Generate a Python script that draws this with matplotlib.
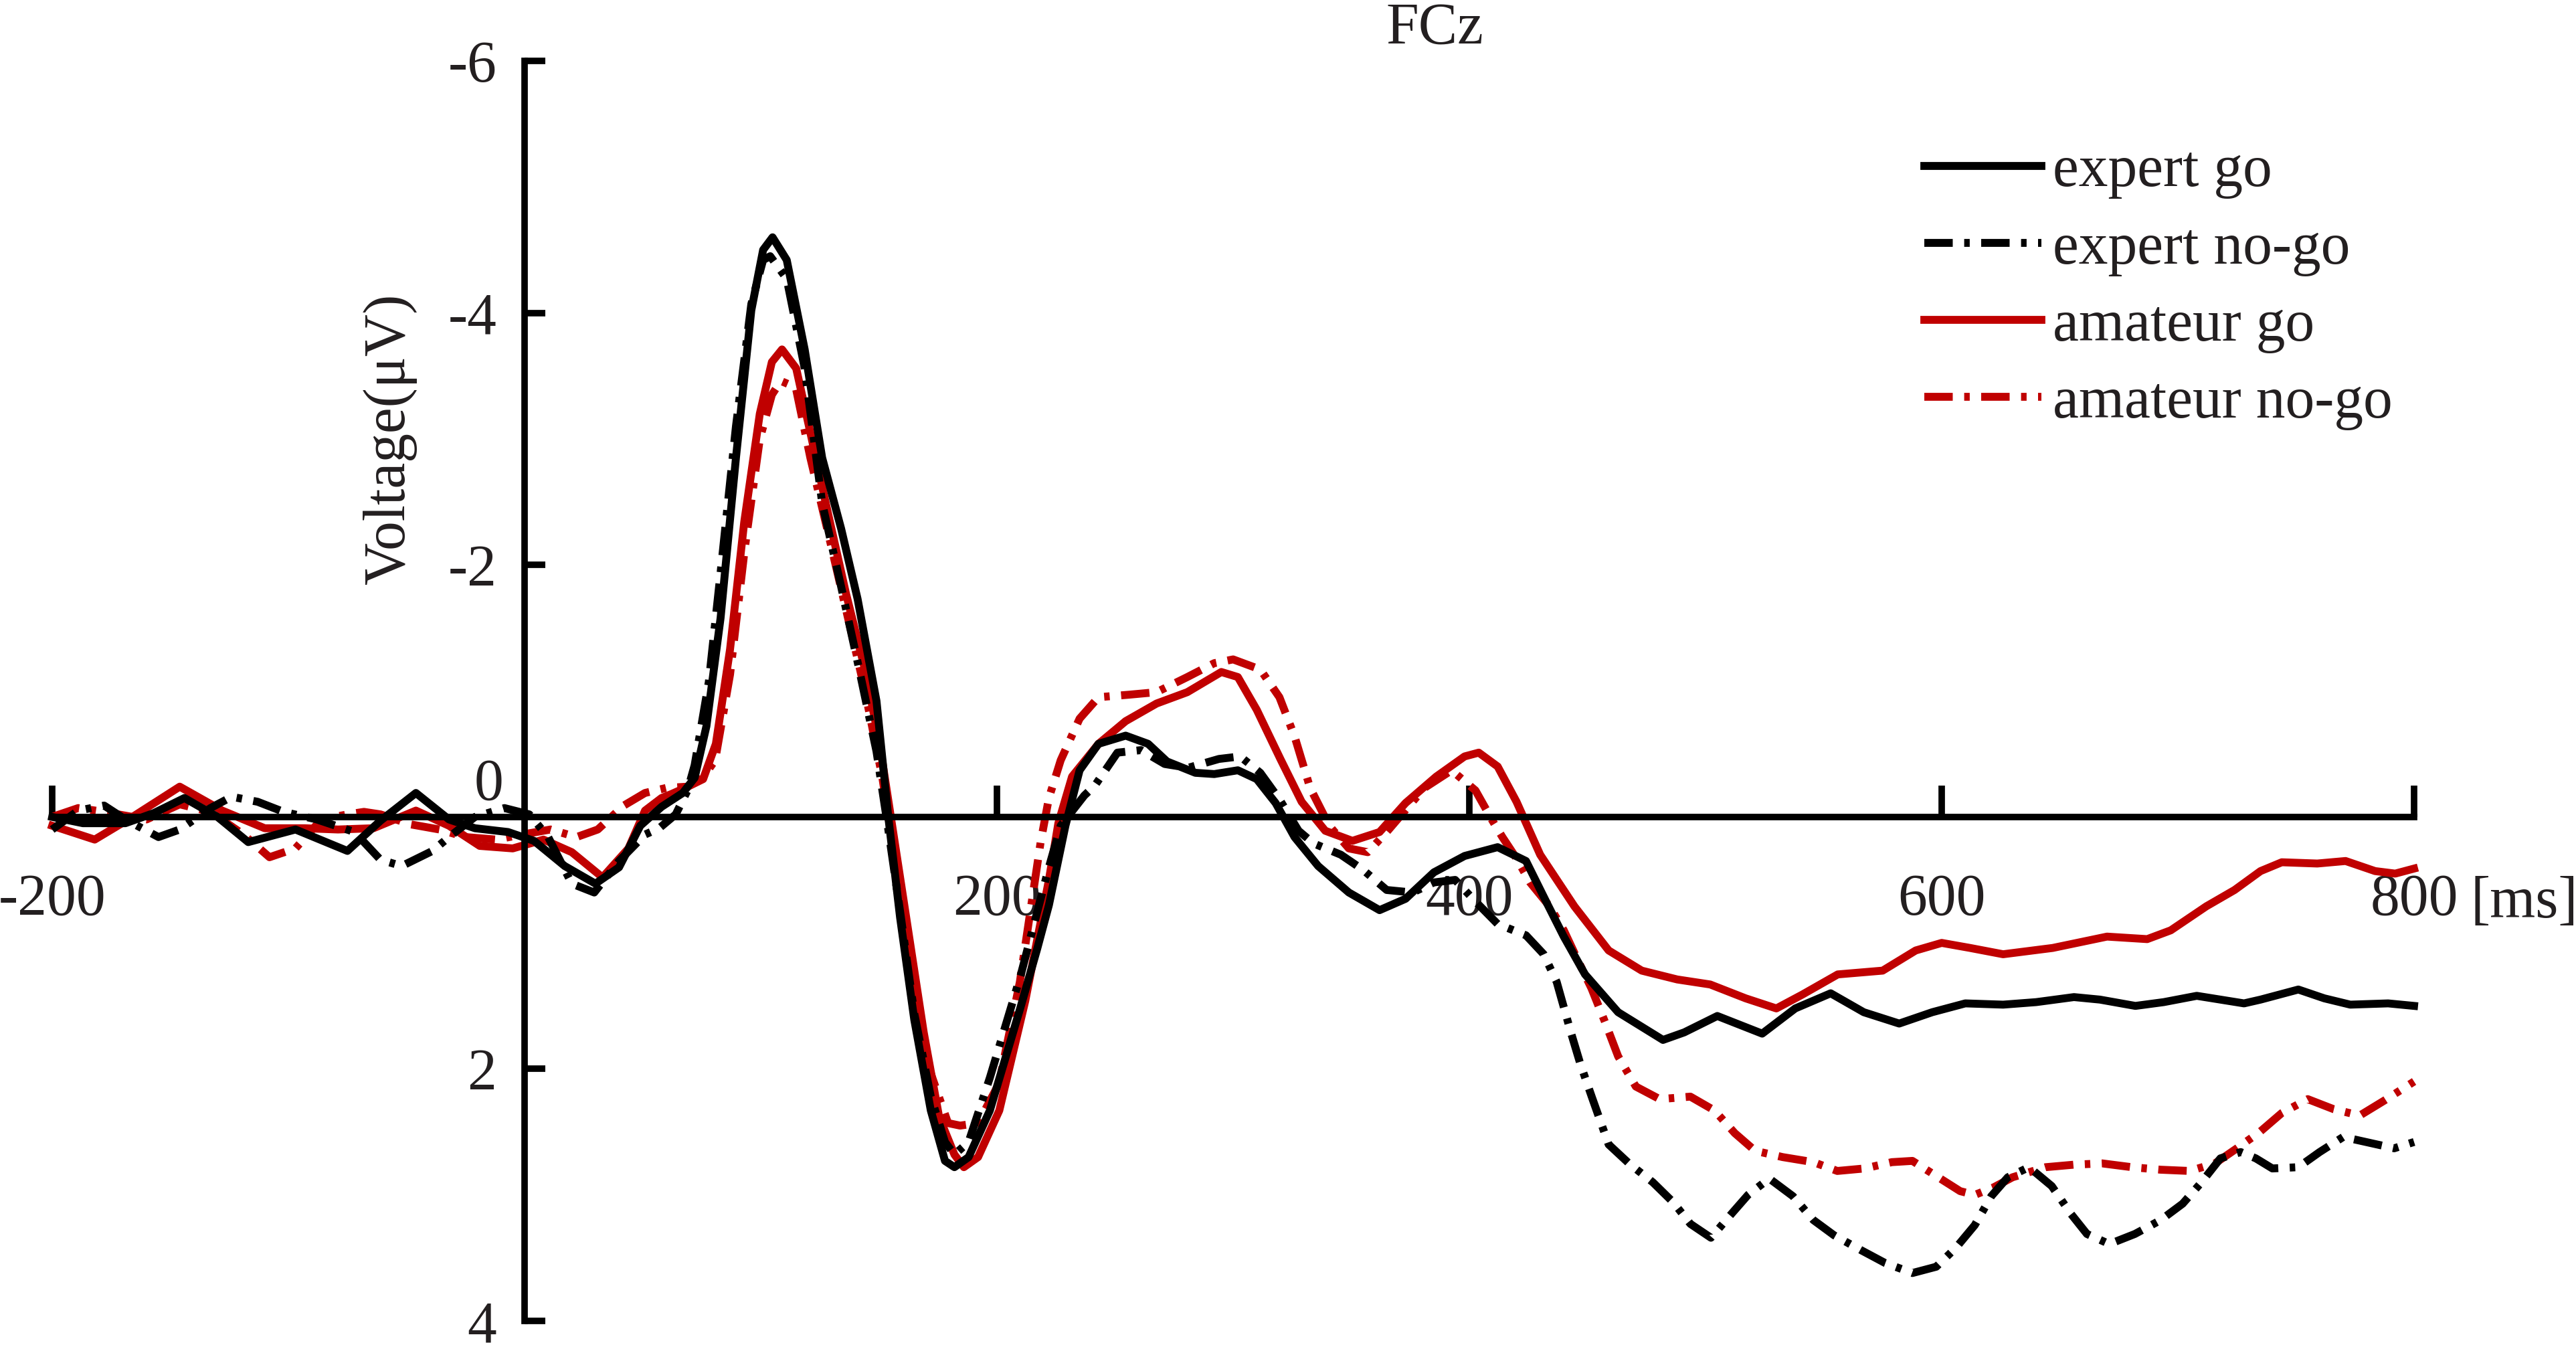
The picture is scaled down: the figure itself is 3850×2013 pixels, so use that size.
import matplotlib
matplotlib.use("Agg")
import matplotlib.pyplot as plt

plt.rcParams['font.family'] = ['Liberation Serif', 'DejaVu Serif']
plt.rcParams['font.size'] = 63

# ---- ERP curves at FCz, time in ms, voltage in uV ----
t_expert_go = [-200, -187, -169, -157, -144, -130, -117, -97, -75, -61, -46, -32, -21, -7, 4, 17,
               30, 40, 49, 58, 67, 72, 77, 83, 89.5, 96, 101, 105, 111, 118.6, 126, 134, 141,
               149, 154, 159, 165, 172, 178, 182, 188, 197, 210, 217, 222, 229, 235, 243, 254.5,
               264, 272, 284, 292, 302, 310, 318, 326, 336, 349, 362, 373, 385, 398, 412, 424,
               433, 440, 449, 463, 482, 491, 505, 524, 538, 553, 567, 582, 596, 610, 626, 640,
               656, 667, 682, 694, 708, 728, 735, 751, 762, 773, 789, 800]
v_expert_go = [0.0, 0.05, 0.05, -0.03, -0.15, 0.0, 0.20, 0.10, 0.27, 0.03, -0.19, 0.02, 0.09, 0.12,
               0.19, 0.39, 0.53, 0.40, 0.07, -0.08, -0.19, -0.31, -0.72, -1.58, -2.85, -4.02,
               -4.50, -4.60, -4.42, -3.71, -2.85, -2.29, -1.73, -0.92, 0.0, 0.80, 1.61, 2.33,
               2.73, 2.78, 2.70, 2.33, 1.51, 1.05, 0.70, 0.07, -0.37, -0.58, -0.645, -0.58,
               -0.44, -0.35, -0.34, -0.37, -0.30, -0.11, 0.16, 0.39, 0.60, 0.74, 0.65, 0.44,
               0.31, 0.24, 0.35, 0.69, 0.95, 1.25, 1.55, 1.77, 1.71, 1.58, 1.72, 1.52, 1.40,
               1.55, 1.64, 1.55, 1.48, 1.49, 1.47, 1.43, 1.45, 1.50, 1.47, 1.42, 1.48, 1.45,
               1.37, 1.44, 1.49, 1.48, 1.50]

t_expert_nogo = [-200, -189, -178, -169, -155, -146, -133, -124, -113, -102, -88, -72, -61, -52,
                 -39, -32, -21, -8.5, 2, 10, 20, 29.5, 40, 51, 57, 64, 69, 72, 78, 83, 89.5, 96,
                 101, 104, 111, 118.6, 126, 134, 141, 149, 154, 159, 165, 172, 178, 182, 188,
                 197, 210, 222, 227, 237, 241.5, 251, 261, 271, 281, 294, 303, 311.5, 319.6,
                 327.7, 334, 345.6, 355, 365, 376, 385, 394, 402, 412, 424, 431.5, 437, 443,
                 447, 452, 459, 467.6, 477.7, 486.4, 493.6, 502.3, 511, 518, 527, 537, 545.7,
                 554.4, 566, 576, 587.6, 597.7, 606, 614, 621, 628, 637, 646.6, 654.7, 661.5,
                 671, 681.8, 692.7, 702, 710, 718, 726.6, 733, 740, 751, 760, 770, 782, 791.6,
                 800]
v_expert_nogo = [0.10, -0.05, -0.09, 0.02, 0.16, 0.10, -0.07, -0.16, -0.12, -0.04, 0.02, 0.12,
                 0.34, 0.39, 0.27, 0.16, 0.0, -0.07, -0.02, 0.16, 0.53, 0.60, 0.35, 0.14, 0.09,
                 -0.02, -0.21, -0.41, -1.07, -1.94, -3.10, -4.07, -4.42, -4.45, -4.27, -3.56,
                 -2.49, -1.83, -1.23, -0.52, 0.10, 0.75, 1.56, 2.22, 2.58, 2.68, 2.58, 2.07,
                 1.26, 0.40, 0.07, -0.17, -0.25, -0.51, -0.53, -0.42, -0.39, -0.46, -0.48,
                 -0.35, -0.14, 0.11, 0.21, 0.30, 0.42, 0.58, 0.60, 0.52, 0.50, 0.66, 0.85,
                 0.94, 1.09, 1.31, 1.71, 1.96, 2.23, 2.60, 2.75, 2.90, 3.06, 3.23, 3.34, 3.15,
                 3.00, 2.87, 3.01, 3.20, 3.32, 3.44, 3.54, 3.62, 3.57, 3.42, 3.24, 3.01, 2.86,
                 2.78, 2.93, 3.15, 3.31, 3.39, 3.31, 3.20, 3.07, 2.90, 2.71, 2.66, 2.71, 2.79,
                 2.78, 2.66, 2.54, 2.59, 2.63, 2.58]

t_amateur_go = [-200, -182, -166, -146, -128, -110, -93, -79, -64, -46, -32, -19, -5, 8, 20, 33,
                44, 51, 58, 62, 68, 75.6, 81, 87, 93, 99.6, 104.7, 109, 115, 121, 128.7, 136,
                144, 150, 155, 161.6, 169, 175.5, 182, 186, 192, 201, 212, 222, 226, 231.8,
                243, 254.5, 267.6, 280.6, 295, 302, 310, 320, 329, 339, 350.5, 362, 373, 386,
                398, 404, 412, 420, 430, 444.5, 459, 473, 488, 502, 517, 530, 541, 556, 575,
                589, 600, 612, 626, 647, 670, 687, 697, 712, 724, 735, 744, 759, 771, 783.5,
                792, 800]
v_amateur_go = [0.07, 0.18, 0.0, -0.24, -0.05, 0.09, 0.09, 0.10, 0.09, -0.05, 0.07, 0.23, 0.25,
                0.18, 0.28, 0.48, 0.25, -0.05, -0.15, -0.18, -0.23, -0.30, -0.58, -1.33, -2.34,
                -3.20, -3.61, -3.71, -3.56, -3.05, -2.39, -1.78, -1.18, -0.62, -0.01, 0.80,
                1.71, 2.38, 2.68, 2.78, 2.70, 2.33, 1.46, 0.50, 0.05, -0.32, -0.58, -0.76,
                -0.90, -0.99, -1.15, -1.11, -0.85, -0.46, -0.12, 0.11, 0.19, 0.12, -0.11,
                -0.32, -0.48, -0.51, -0.40, -0.12, 0.30, 0.71, 1.06, 1.22, 1.29, 1.33, 1.44,
                1.52, 1.41, 1.25, 1.22, 1.06, 1.00, 1.04, 1.09, 1.04, 0.95, 0.97, 0.90, 0.71,
                0.58, 0.43, 0.36, 0.37, 0.35, 0.43, 0.45, 0.41]

t_amateur_nogo = [-200, -189, -178, -160, -146, -133, -119, -108, -97, -86, -75, -68, -61, -48,
                  -36, -25, -12, -1, 11, 22, 31, 42, 51, 60, 69, 75, 80.7, 87, 93.3, 99.6, 104.7,
                  108.5, 114.8, 121, 128.7, 136.3, 143.9, 151.5, 156.5, 164.1, 171.7, 179.3,
                  184.4, 192, 200.8, 209.7, 218.5, 222, 227, 235, 243, 256, 267.6, 280.6, 292,
                  300, 311.5, 319.6, 326, 332.6, 340.7, 349, 357, 365, 381, 392.5, 402.6,
                  409.8, 414, 420, 425.7, 434, 440, 446, 451.7, 457.5, 463, 470.5, 480.6,
                  493.6, 503.8, 512.4, 521, 532.7, 545.7, 555.8, 567.4, 578.9, 587.6, 597.7,
                  607.8, 614, 622, 630, 644, 656, 668, 680.5, 692.7, 705, 715.7, 725, 734.7,
                  744, 755, 766, 777, 787.5, 800]
v_amateur_nogo = [0.0, -0.07, -0.04, 0.02, -0.10, -0.04, 0.14, 0.32, 0.25, 0.02, -0.02, -0.04,
                  -0.02, 0.06, 0.10, 0.16, 0.18, 0.14, 0.10, 0.16, 0.10, -0.09, -0.19, -0.23,
                  -0.24, -0.30, -0.45, -1.13, -2.14, -3.00, -3.35, -3.46, -3.41, -2.85, -2.24,
                  -1.63, -1.02, -0.31, 0.30, 1.21, 2.02, 2.43, 2.45, 2.43, 2.12, 1.31, 0.20,
                  -0.15, -0.45, -0.78, -0.95, -0.97, -0.99, -1.11, -1.22, -1.25, -1.17, -0.95,
                  -0.64, -0.23, 0.07, 0.25, 0.28, 0.12, -0.23, -0.37, -0.21, 0.03, 0.16, 0.33,
                  0.52, 0.71, 0.90, 1.14, 1.36, 1.63, 1.90, 2.14, 2.24, 2.22, 2.33, 2.51, 2.65,
                  2.70, 2.74, 2.81, 2.79, 2.74, 2.73, 2.85, 2.97, 3.00, 2.94, 2.86, 2.78, 2.76,
                  2.75, 2.78, 2.80, 2.81, 2.75, 2.63, 2.50, 2.35, 2.24, 2.32, 2.37, 2.25, 2.10]

labels = ['expert go', 'expert no-go', 'amateur go', 'amateur no-go']
x_ticks = [-200, 200, 400, 600, 800]
y_ticks = [-6, -4, -2, 2, 4]

RED = '#c00000'
TXT = '#231f20'
LW = 8.5
dashdot = (3.6, 1.45, 0.7, 1.45)

fig = plt.figure(figsize=(38.5, 20.13), dpi=100)
ax = fig.add_axes([0.02026, 0.01937, 0.91688, 0.93542])

line_kw = dict(lw=LW, clip_on=False, solid_joinstyle='round', dash_joinstyle='round')
ax.plot(t_amateur_nogo, v_amateur_nogo, color=RED, dashes=dashdot, label=labels[3], **line_kw)
ax.plot(t_amateur_go, v_amateur_go, color=RED, label=labels[2], **line_kw)
ax.plot(t_expert_nogo, v_expert_nogo, color='black', dashes=dashdot, label=labels[1], **line_kw)
ax.plot(t_expert_go, v_expert_go, color='black', label=labels[0], **line_kw)

ax.set_xlim(-200, 800)
ax.set_ylim(4, -6)  # negative up, ERP convention

for side in ['top', 'right']:
    ax.spines[side].set_visible(False)
ax.spines['left'].set_position(('data', 0))
ax.spines['bottom'].set_position(('data', 0))
ax.spines['left'].set_linewidth(7)
ax.spines['bottom'].set_linewidth(7)

ax.set_xticks(x_ticks)
ax.set_xticklabels([str(x) for x in x_ticks])
ax.set_yticks(y_ticks)
ax.set_yticklabels([str(y) for y in y_ticks])
ax.tick_params(axis='x', direction='in', length=34, width=7, pad=60, labelcolor=TXT)
ax.tick_params(axis='y', direction='in', length=22, width=7, pad=30, labelcolor=TXT)

# extra labels placed by hand like the original
ax.text(-9, -0.14, '0', ha='right', va='baseline', color=TXT)
ax.text(824, 0.795, '[ms]', ha='left', va='baseline', color=TXT, clip_on=False)
ax.text(-57, -3.0, 'Voltage(μV)', rotation=90, ha='center', va='center', color=TXT)
fig.text(0.557, 0.9677, 'FCz', ha='center', va='baseline', color=TXT)

h, l = ax.get_legend_handles_labels()
order = [3, 2, 1, 0]
leg = ax.legend([h[i] for i in order], [l[i] for i in order], loc='upper left',
                bbox_to_anchor=(0.747, 0.8925), bbox_transform=fig.transFigure,
                frameon=False, borderpad=0, borderaxespad=0, handlelength=2.0,
                handletextpad=0.2, labelspacing=0.39)
for t in leg.get_texts():
    t.set_color(TXT)

fig.savefig('out.png', dpi=100)
